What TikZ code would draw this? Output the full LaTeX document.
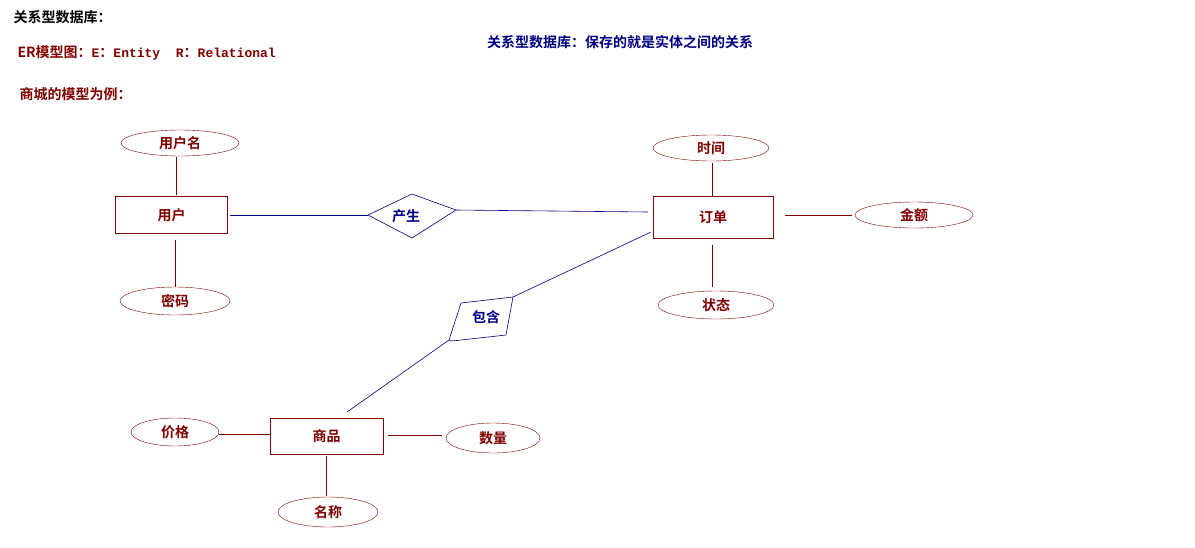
\documentclass[tikz,border=0pt]{standalone}
\usepackage{fontspec}
\usetikzlibrary{shapes.geometric}
\newfontfamily\cjk{Noto Sans CJK SC}[BoldFont={Noto Sans CJK SC Bold}]
\newfontfamily\mono{Liberation Mono}
\definecolor{dred}{HTML}{800000}
\definecolor{dnavy}{HTML}{000080}
\begin{document}
\begin{tikzpicture}[x=1pt,y=-1pt,
  ent/.style={draw=dred,rectangle,minimum width=112pt,minimum height=37pt,inner sep=0pt},
  attr/.style={draw=dred,ellipse,inner sep=0pt},
  rl/.style={dnavy,line width=0.6pt},
  al/.style={dred,line width=0.6pt},
  lbl/.style={font=\cjk\bfseries\fontsize{14}{14}\selectfont},
  every node/.style={lbl}]
\useasboundingbox (0,0) rectangle (1195,547);
\node[anchor=west,text=black] (t1) at (10,17) {关系型数据库：};
\node[anchor=west,text=dred] (t2) at (14,53) {ER模型图：{\mono\bfseries\fontsize{13}{13}\selectfont E}：{\mono\bfseries\fontsize{13}{13}\selectfont Entity\ \ R}：{\mono\bfseries\fontsize{13}{13}\selectfont Relational}};
\node[anchor=west,text=dred] (t3) at (16,94) {商城的模型为例：};
\node[text=dnavy] (t4) at (620,42) {关系型数据库：保存的就是实体之间的关系};

\node[ent,text=dred] (yh) at (171.5,215) {用户};
\node[ent,minimum width=120pt,minimum height=42pt,text=dred] (dd) at (713,217) {订单};
\node[ent,minimum width=113pt,minimum height=36pt,text=dred] (sp) at (326.5,436) {商品};

\node[attr,minimum width=118pt,minimum height=26pt,text=dred] (yhm) at (180,143) {用户名};
\node[attr,minimum width=110pt,minimum height=28pt,text=dred] (mm) at (175,301) {密码};
\node[attr,minimum width=116pt,minimum height=26pt,text=dred] (sj) at (711,148) {时间};
\node[attr,minimum width=118pt,minimum height=26pt,text=dred] (je) at (914,215) {金额};
\node[attr,minimum width=116pt,minimum height=28pt,text=dred] (zt) at (716,305) {状态};
\node[attr,minimum width=88pt,minimum height=28pt,text=dred] (jg) at (175,432) {价格};
\node[attr,minimum width=94pt,minimum height=30pt,text=dred] (sl) at (493,438) {数量};
\node[attr,minimum width=100pt,minimum height=30pt,text=dred] (mc) at (328,512) {名称};

% relationship diamonds
\coordinate (csL) at (368,215);
\coordinate (csR) at (456,210);
\draw[rl] (csL) -- (412,194) -- (csR) -- (412,238) -- cycle;
\node[text=dnavy] (cs) at (406,216) {产生};
\coordinate (bhT) at (513,297);
\coordinate (bhB) at (449,340);
\draw[rl] (461,303) -- (bhT) -- (506,335) -- (452,341) -- (bhB) -- cycle;
\node[text=dnavy] (bh) at (486,317) {包含};

% connectors
\coordinate (a1) at (176,157); \coordinate (a2) at (176,195);
\draw[al] (a1) -- (a2);
\coordinate (b1) at (175,240); \coordinate (b2) at (175,287);
\draw[al] (b1) -- (b2);
\coordinate (c1) at (230,215);
\draw[rl] (c1) -- (csL);
\coordinate (c2) at (648,212);
\draw[rl] (csR) -- (c2);
\coordinate (d1) at (712,163); \coordinate (d2) at (712,196);
\draw[al] (d1) -- (d2);
\coordinate (e1) at (785,215); \coordinate (e2) at (852,215);
\draw[al] (e1) -- (e2);
\coordinate (f1) at (712,245); \coordinate (f2) at (712,287);
\draw[al] (f1) -- (f2);
\coordinate (g1) at (651,232);
\draw[rl] (g1) -- (bhT);
\coordinate (g2) at (347,412);
\draw[rl] (bhB) -- (g2);
\coordinate (h1) at (219,434); \coordinate (h2) at (270,434);
\draw[al] (h1) -- (h2);
\coordinate (i1) at (388,435); \coordinate (i2) at (442,435);
\draw[al] (i1) -- (i2);
\coordinate (j1) at (326,456); \coordinate (j2) at (326,496);
\draw[al] (j1) -- (j2);
\end{tikzpicture}
\end{document}
